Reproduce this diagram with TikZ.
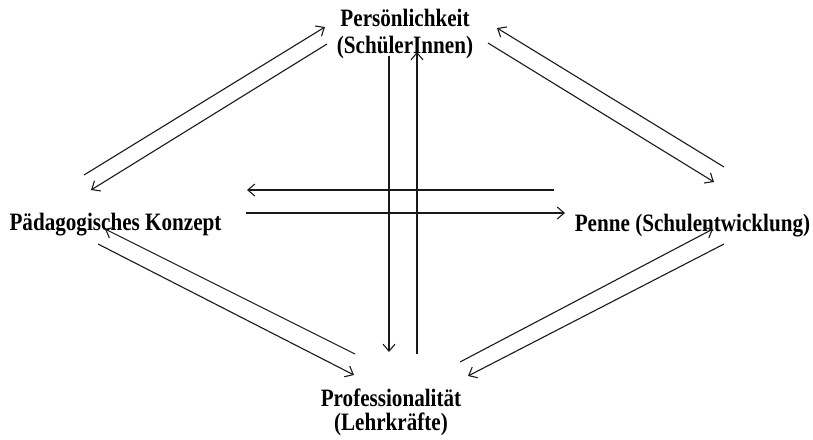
\documentclass[tikz,border=0pt]{standalone}
\usepackage{fontspec}
\setmainfont{Liberation Serif}
\usetikzlibrary{arrows.meta}
\newcommand{\lbltext}[1]{\scalebox{0.845}[1]{\begin{tabular}[t]{@{}c@{}}#1\end{tabular}}}
\begin{document}
\begin{tikzpicture}[x=1pt,y=-1pt,
  lbl/.style={inner sep=0pt, anchor=base, text=black},
  arr/.style={line width=1.1pt, draw=black!90, -{Straight Barb[length=7pt,width=12pt]}}]
\useasboundingbox (0,0) rectangle (813,439);
% labels
\node[lbl, font=\fontsize{25}{26}\selectfont\bfseries] (pers) at (405,27) {\lbltext{Persönlichkeit\\(SchülerInnen)}};
\node[lbl, font=\fontsize{25}{25}\selectfont\bfseries] (paed) at (115.5,230) {\lbltext{Pädagogisches Konzept}};
\node[lbl, font=\fontsize{25}{25}\selectfont\bfseries] (penne) at (692.5,231) {\lbltext{Penne (Schulentwicklung)}};
\node[lbl, font=\fontsize{25}{24}\selectfont\bfseries] (prof) at (391,406) {\lbltext{Professionalität\\(Lehrkräfte)}};
% arrow end points
\coordinate (a1s) at (84,175);  \coordinate (a1e) at (325,27);
\coordinate (a2s) at (327,44);  \coordinate (a2e) at (91,190);
\coordinate (a3s) at (724,167); \coordinate (a3e) at (497,28);
\coordinate (a4s) at (488,43);  \coordinate (a4e) at (714,182);
\coordinate (a5s) at (554,190); \coordinate (a5e) at (247,190);
\coordinate (a6s) at (246,213); \coordinate (a6e) at (565,213);
\coordinate (a7s) at (389,56);  \coordinate (a7e) at (389,352);
\coordinate (a8s) at (417,354); \coordinate (a8e) at (417,52);
\coordinate (a9s) at (355,354); \coordinate (a9e) at (105,229);
\coordinate (a10s) at (98,244); \coordinate (a10e) at (354,375);
\coordinate (a11s) at (460,362); \coordinate (a11e) at (713,229);
\coordinate (a12s) at (724,244); \coordinate (a12e) at (468,376);
% arrows
\foreach \i in {1,...,12} { \draw[arr] (a\i s) -- (a\i e); }
\end{tikzpicture}
\end{document}
